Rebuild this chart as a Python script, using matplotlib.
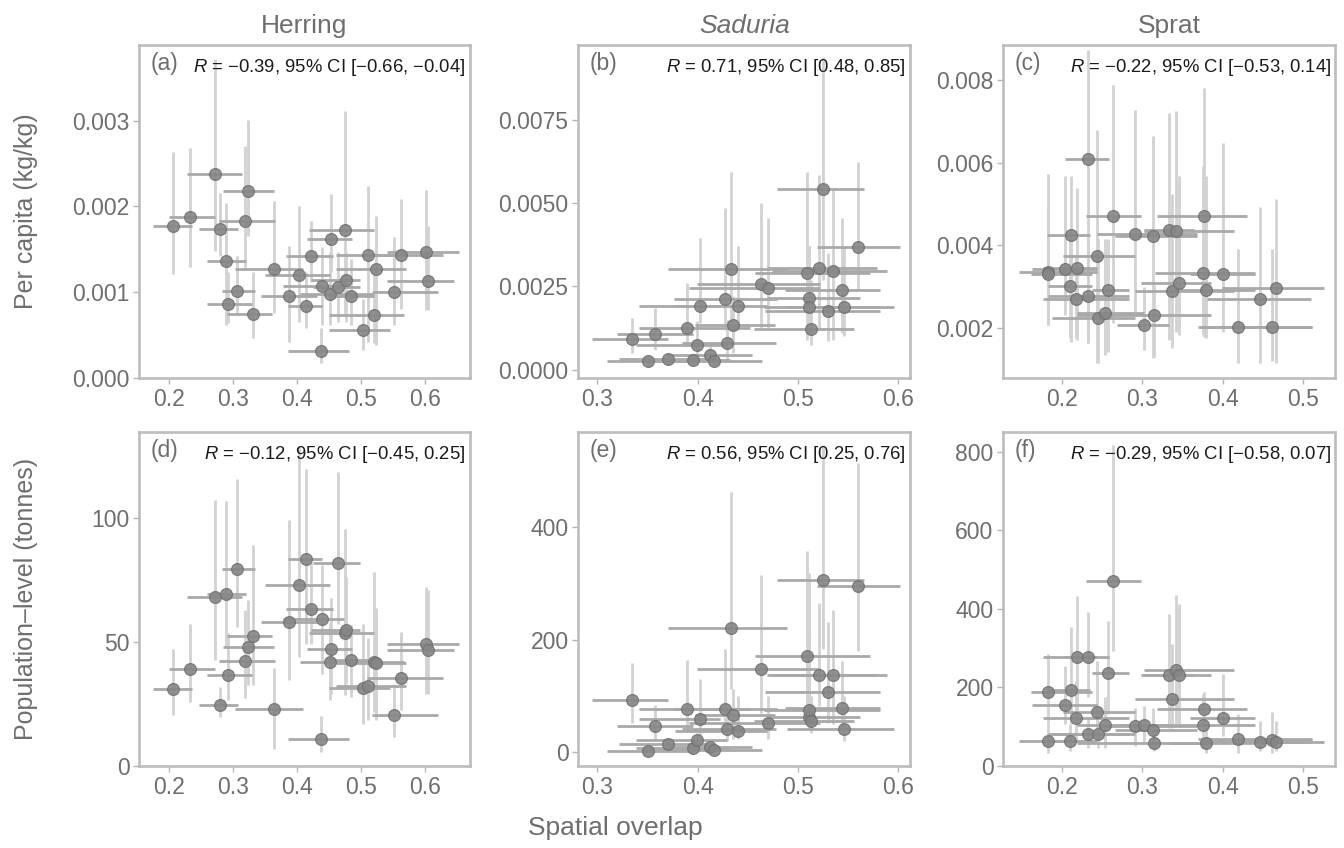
import numpy as np
import matplotlib
matplotlib.use('Agg')
import matplotlib.pyplot as plt

# herring (same overlap values in both rows)
herring_x = [0.205, 0.232, 0.271, 0.279, 0.289, 0.292, 0.306, 0.318, 0.323, 0.330, 0.364, 0.387, 0.403, 0.413, 0.421, 0.437,
             0.438, 0.451, 0.452, 0.464, 0.475, 0.476, 0.483, 0.503, 0.511, 0.520, 0.523, 0.551, 0.562, 0.601, 0.604]
herring_x_lo = [0.175, 0.200, 0.227, 0.247, 0.259, 0.259, 0.282, 0.277, 0.284, 0.290, 0.303, 0.343, 0.349, 0.385, 0.383, 0.386,
                0.378, 0.404, 0.415, 0.425, 0.418, 0.422, 0.448, 0.449, 0.461, 0.449, 0.461, 0.516, 0.508, 0.540, 0.540]
herring_x_hi = [0.235, 0.271, 0.314, 0.307, 0.319, 0.329, 0.334, 0.365, 0.363, 0.361, 0.409, 0.430, 0.451, 0.438, 0.456, 0.481,
                0.473, 0.519, 0.486, 0.498, 0.519, 0.498, 0.519, 0.545, 0.569, 0.566, 0.569, 0.620, 0.628, 0.653, 0.645]
herring_pc = [0.001767, 0.001879, 0.002380, 0.001736, 0.001358, 0.000860, 0.001015, 0.001833, 0.002176, 0.000741, 0.001265,
              0.000957, 0.001196, 0.000837, 0.001420, 0.000320, 0.001073, 0.000984, 0.001617, 0.001061, 0.001721, 0.001138,
              0.000953, 0.000559, 0.001435, 0.000737, 0.001273, 0.001003, 0.001435, 0.001466, 0.001127]
herring_pc_lo = [0.001215, 0.001292, 0.001485, 0.001427, 0.000617, 0.000637, 0.000733, 0.001273, 0.001659, 0.000463, 0.000752,
                 0.000424, 0.000656, 0.000579, 0.001119, 0.000174, 0.000617, 0.000617, 0.001235, 0.000656, 0.000733, 0.000656,
                 0.000617, 0.000328, 0.000424, 0.000405, 0.000386, 0.000617, 0.000810, 0.000791, 0.000791]
herring_pc_hi = [0.002631, 0.002681, 0.003723, 0.002160, 0.002045, 0.001235, 0.001427, 0.002701, 0.003009, 0.001235, 0.002064,
                 0.001543, 0.002006, 0.001235, 0.001833, 0.000579, 0.001524, 0.001466, 0.002141, 0.001466, 0.003117, 0.001466,
                 0.001389, 0.000926, 0.002238, 0.001235, 0.001890, 0.001640, 0.002091, 0.002188, 0.001775]
herring_pop = [31.1, 38.9, 68.2, 24.5, 69.2, 36.8, 79.4, 42.4, 48.0, 52.4, 23.0, 57.9, 73.1, 83.6, 63.2, 11.0,
               59.4, 41.9, 47.3, 82.0, 53.4, 55.0, 42.6, 31.5, 32.1, 41.8, 41.7, 20.4, 35.6, 49.3, 46.7]
herring_pop_lo = [20.4, 25.8, 42.6, 19.8, 48.0, 26.5, 56.1, 27.2, 32.5, 32.5, 7.0, 34.6, 44.0, 49.3, 49.3, 5.7,
                  37.2, 26.5, 29.2, 57.4, 28.5, 33.2, 27.8, 17.1, 18.4, 21.8, 18.4, 11.7, 22.5, 29.2, 29.2]
herring_pop_hi = [47.3, 57.4, 107.1, 31.9, 106.7, 53.4, 115.5, 62.8, 66.8, 89.0, 39.3, 99.1, 128.6, 119.5, 81.6, 20.0,
                  80.9, 58.1, 67.5, 118.6, 95.7, 76.2, 56.7, 57.4, 51.4, 78.2, 63.5, 33.2, 54.0, 72.2, 71.1]

# saduria
saduria_x = [0.335, 0.351, 0.358, 0.370, 0.389, 0.395, 0.399, 0.402, 0.412, 0.416, 0.427, 0.429, 0.433, 0.435,
             0.440, 0.463, 0.470, 0.509, 0.511, 0.511, 0.513, 0.521, 0.525, 0.530, 0.535, 0.544, 0.546, 0.560]
saduria_x_lo = [0.295, 0.310, 0.320, 0.322, 0.342, 0.339, 0.339, 0.342, 0.369, 0.359, 0.376, 0.384, 0.370, 0.397,
                0.377, 0.399, 0.391, 0.457, 0.469, 0.466, 0.456, 0.469, 0.479, 0.467, 0.474, 0.487, 0.489, 0.519]
saduria_x_hi = [0.370, 0.396, 0.395, 0.412, 0.452, 0.432, 0.429, 0.422, 0.454, 0.464, 0.479, 0.478, 0.489, 0.477,
                0.469, 0.522, 0.522, 0.572, 0.562, 0.582, 0.556, 0.579, 0.566, 0.582, 0.589, 0.582, 0.596, 0.602]
saduria_pc = [0.00092, 0.00027, 0.00107, 0.00033, 0.00124, 0.00028, 0.00074, 0.00192, 0.00045, 0.00025, 0.00212, 0.00080,
              0.00303, 0.00134, 0.00192, 0.00257, 0.00245, 0.00290, 0.00215, 0.00187, 0.00123, 0.00305, 0.00544, 0.00175,
              0.00297, 0.00238, 0.00187, 0.00368]
saduria_pc_lo = [0.00050, 0.00015, 0.00060, 0.00015, 0.00070, 0.00015, 0.00045, 0.00140, 0.00025, 0.00012, 0.00120, 0.00030,
                 0.00120, 0.00050, 0.00130, 0.00125, 0.00125, 0.00090, 0.00110, 0.00110, 0.00075, 0.00120, 0.00270, 0.00085,
                 0.00090, 0.00110, 0.00100, 0.00240]
saduria_pc_hi = [0.00155, 0.00040, 0.00185, 0.00050, 0.00260, 0.00045, 0.00145, 0.00395, 0.00070, 0.00040, 0.00485, 0.00150,
                 0.00595, 0.00220, 0.00373, 0.00500, 0.00455, 0.00595, 0.00370, 0.00370, 0.00270, 0.00585, 0.00940, 0.00350,
                 0.00545, 0.00455, 0.00370, 0.00625]
saduria_pop = [93.4, 3.0, 47.3, 15.4, 78.0, 7.7, 21.9, 60.3, 8.9, 4.7, 76.8, 42.6, 220.4, 66.8,
               38.4, 147.8, 53.2, 171.4, 63.8, 75.1, 56.1, 137.7, 306.1, 107.6, 137.7, 79.2, 42.6, 296.7]
saduria_pop_lo = [53.2, 0.0, 23.6, 5.9, 38.4, 1.2, 8.9, 29.6, 1.8, 0.0, 41.4, 20.7, 112.3, 23.6,
                  23.6, 70.9, 23.6, 82.7, 41.4, 47.3, 35.5, 82.7, 183.2, 53.2, 50.2, 41.4, 20.7, 180.3]
saduria_pop_hi = [159.6, 8.9, 83.9, 23.6, 163.7, 14.8, 35.5, 130.0, 17.7, 11.8, 183.2, 65.0, 462.8, 112.3,
                  100.5, 315.0, 100.5, 357.6, 319.0, 206.9, 100.5, 266.0, 546.7, 231.7, 252.4, 162.5, 100.5, 514.2]

# sprat
sprat_x = [0.183, 0.183, 0.204, 0.211, 0.210, 0.219, 0.218, 0.232, 0.233, 0.244, 0.245, 0.254, 0.257, 0.264, 0.291,
           0.302, 0.313, 0.315, 0.333, 0.337, 0.342, 0.346, 0.376, 0.377, 0.379, 0.401, 0.419, 0.447, 0.462, 0.467]
sprat_x_lo = [0.146, 0.162, 0.163, 0.181, 0.183, 0.177, 0.177, 0.183, 0.204, 0.201, 0.188, 0.219, 0.237, 0.230, 0.244,
              0.269, 0.266, 0.219, 0.302, 0.291, 0.302, 0.298, 0.316, 0.319, 0.335, 0.360, 0.370, 0.381, 0.372, 0.399]
sprat_x_hi = [0.244, 0.237, 0.244, 0.235, 0.237, 0.244, 0.283, 0.283, 0.258, 0.291, 0.291, 0.302, 0.283, 0.298, 0.368,
              0.333, 0.368, 0.386, 0.365, 0.414, 0.414, 0.385, 0.441, 0.431, 0.441, 0.440, 0.511, 0.510, 0.511, 0.526]
sprat_pc = [0.00336, 0.00332, 0.00344, 0.00426, 0.00302, 0.00346, 0.00270, 0.00278, 0.00610, 0.00374, 0.00226, 0.00238,
            0.00292, 0.00472, 0.00428, 0.00208, 0.00422, 0.00232, 0.00438, 0.00290, 0.00434, 0.00310, 0.00334, 0.00472,
            0.00292, 0.00332, 0.00204, 0.00270, 0.00204, 0.00298]
sprat_pc_lo = [0.00208, 0.00208, 0.00232, 0.00168, 0.00176, 0.00172, 0.00176, 0.00164, 0.00164, 0.00116, 0.00116, 0.00136,
               0.00144, 0.00212, 0.00240, 0.00148, 0.00128, 0.00132, 0.00172, 0.00152, 0.00192, 0.00184, 0.00184, 0.00180,
               0.00176, 0.00192, 0.00116, 0.00116, 0.00120, 0.00116]
sprat_pc_hi = [0.00572, 0.00488, 0.00568, 0.00568, 0.00416, 0.00540, 0.00376, 0.00416, 0.00872, 0.00680, 0.00416, 0.00416,
               0.00416, 0.00788, 0.00728, 0.00300, 0.00664, 0.00304, 0.00720, 0.00524, 0.00724, 0.00568, 0.00592, 0.00780,
               0.00568, 0.00648, 0.00392, 0.00492, 0.00392, 0.00512]
sprat_pop = [63.8, 188.9, 154.9, 193.2, 63.8, 278.3, 121.7, 80.9, 278.3, 137.9, 80.9, 103.8, 235.7, 470.6, 102.1,
             104.7, 92.8, 59.6, 232.3, 170.2, 244.3, 232.3, 103.8, 144.7, 57.9, 121.7, 68.1, 62.1, 65.5, 62.1]
sprat_pop_lo = [34.0, 106.4, 106.4, 106.4, 38.3, 106.4, 63.8, 46.8, 174.5, 72.3, 46.8, 46.8, 131.9, 293.6, 51.1,
                55.3, 46.8, 38.3, 97.9, 97.9, 106.4, 106.4, 46.8, 89.4, 34.0, 76.6, 34.0, 38.3, 34.0, 38.3]
sprat_pop_hi = [106.4, 285.1, 255.3, 353.2, 106.4, 434.0, 217.0, 123.4, 391.5, 268.1, 114.9, 174.5, 370.2, 817.0, 148.9,
                153.2, 148.9, 97.9, 387.2, 310.6, 435.7, 412.8, 183.0, 187.2, 106.4, 234.0, 131.9, 114.9, 136.2, 114.9]

species = ['Herring', 'Saduria', 'Sprat']
panel_labels = ['(a)', '(b)', '(c)', '(d)', '(e)', '(f)']
stats = ['\u22120.39, 95% CI [\u22120.66, \u22120.04]', '0.71, 95% CI [0.48, 0.85]', '\u22120.22, 95% CI [\u22120.53, 0.14]',
         '\u22120.12, 95% CI [\u22120.45, 0.25]', '0.56, 95% CI [0.25, 0.76]', '\u22120.29, 95% CI [\u22120.58, 0.07]']

GREY_TXT = '#6e6e6e'
FRAME = '#bdbdbd'


def panel(ax, x, xlo, xhi, y, ylo, yhi):
    x = np.array(x); y = np.array(y)
    # vertical CIs (light), horizontal CIs (darker), then points
    ax.vlines(x, ylo, yhi, color='#d2d2d2', lw=2.0, zorder=1)
    ax.hlines(y, xlo, xhi, color='#a9a9a9', lw=2.0, zorder=2)
    ax.scatter(x, y, s=72, facecolor='#868686', edgecolor='#727272', linewidth=0.9, alpha=0.9, zorder=3)


def main():
    plt.rcParams['font.family'] = ['Liberation Sans', 'DejaVu Sans']
    plt.rcParams['mathtext.fontset'] = 'custom'
    plt.rcParams['mathtext.it'] = 'Liberation Sans:italic'
    plt.rcParams['mathtext.rm'] = 'Liberation Sans'

    fig = plt.figure(figsize=(13.44, 8.48), dpi=100)

    lefts = [0.1036, 0.4303, 0.7465]
    widths = [0.2458, 0.2468, 0.2468]
    bottoms = [0.5542, 0.0967]
    heights = [0.3927, 0.3942]

    data = [
        (herring_x, herring_x_lo, herring_x_hi, herring_pc, herring_pc_lo, herring_pc_hi),
        (saduria_x, saduria_x_lo, saduria_x_hi, saduria_pc, saduria_pc_lo, saduria_pc_hi),
        (sprat_x, sprat_x_lo, sprat_x_hi, sprat_pc, sprat_pc_lo, sprat_pc_hi),
        (herring_x, herring_x_lo, herring_x_hi, herring_pop, herring_pop_lo, herring_pop_hi),
        (saduria_x, saduria_x_lo, saduria_x_hi, saduria_pop, saduria_pop_lo, saduria_pop_hi),
        (sprat_x, sprat_x_lo, sprat_x_hi, sprat_pop, sprat_pop_lo, sprat_pop_hi),
    ]
    xlims = [(0.153, 0.669), (0.281, 0.612), (0.127, 0.540)]
    ylims = [(0.0, 0.00388), (-0.00025, 0.00975), (0.0008, 0.00884),
             (0.0, 134.7), (-24, 570), (0.0, 851)]
    xticks = [[0.2, 0.3, 0.4, 0.5, 0.6], [0.3, 0.4, 0.5, 0.6], [0.2, 0.3, 0.4, 0.5]]
    yticks = [[0, 0.001, 0.002, 0.003], [0, 0.0025, 0.005, 0.0075], [0.002, 0.004, 0.006, 0.008],
              [0, 50, 100], [0, 200, 400], [0, 200, 400, 600, 800]]
    yfmt = ['{:.3f}', '{:.4f}', '{:.3f}', '{:.0f}', '{:.0f}', '{:.0f}']

    for i in range(6):
        r, c = divmod(i, 3)
        ax = fig.add_axes([lefts[c], bottoms[r], widths[c], heights[r]])
        panel(ax, *data[i])
        ax.set_xlim(*xlims[c])
        ax.set_ylim(*ylims[i])
        ax.set_xticks(xticks[c])
        ax.set_xticklabels(['{:.1f}'.format(t) for t in xticks[c]])
        ax.set_yticks(yticks[i])
        ax.set_yticklabels([yfmt[i].format(t) for t in yticks[i]])
        for s in ax.spines.values():
            s.set_color(FRAME)
            s.set_linewidth(1.9)
        ax.tick_params(colors='#b5b5b5', labelcolor=GREY_TXT, labelsize=16.5, length=4, width=1, pad=3)

        ax.text(0.035, 0.945, panel_labels[i], transform=ax.transAxes, ha='left', va='center',
                fontsize=16.5, color=GREY_TXT)
        ax.text(0.988, 0.932, '$R$ = ' + stats[i], transform=ax.transAxes, ha='right', va='center',
                fontsize=13.3, color='#1a1a1a')

        if r == 0:
            ax.set_title(species[c], fontsize=19, color=GREY_TXT, pad=9,
                         fontstyle='italic' if species[c] == 'Saduria' else 'normal')

    fig.text(0.019, bottoms[0] + heights[0] / 2, 'Per capita (kg/kg)', rotation=90, ha='center', va='center',
             fontsize=18, color=GREY_TXT)
    fig.text(0.019, bottoms[1] + heights[1] / 2, 'Population\u2013level (tonnes)', rotation=90, ha='center',
             va='center', fontsize=18, color=GREY_TXT)
    fig.text(0.458, 0.024, 'Spatial overlap', ha='center', va='center', fontsize=19, color=GREY_TXT)

    fig.savefig('out.png', dpi=100)


if __name__ == "__main__":
    main()
